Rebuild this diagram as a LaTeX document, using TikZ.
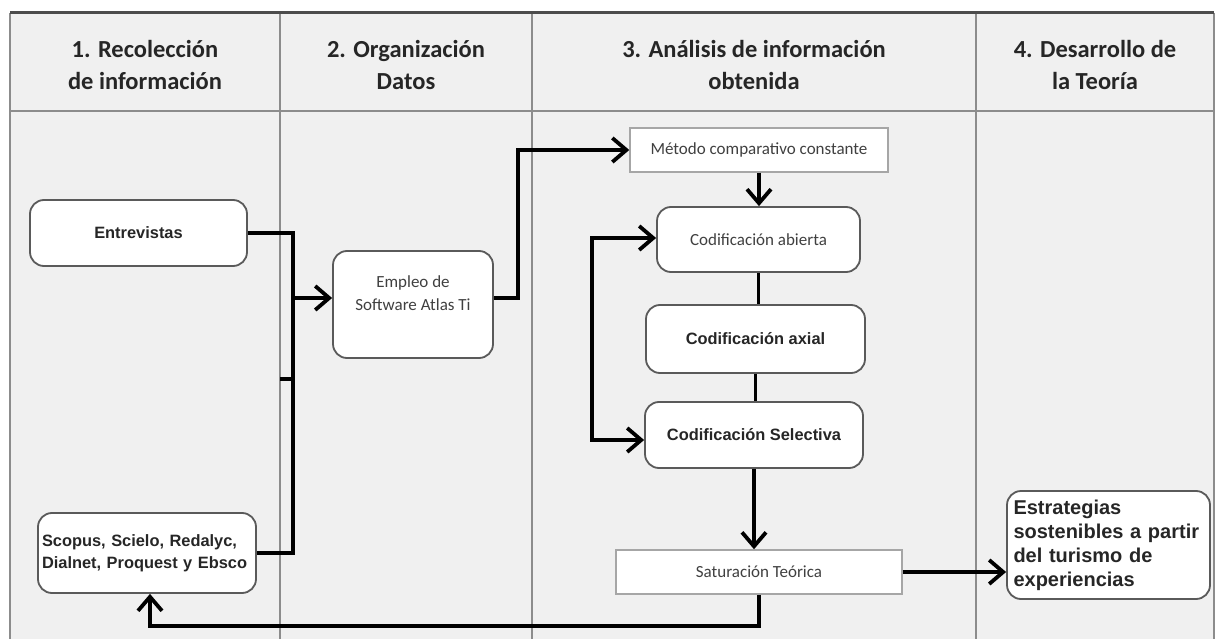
\documentclass[tikz,border=0pt]{standalone}
\usepackage{fontspec}
\setmainfont{Carlito}
\newfontfamily\arialfam{Liberation Sans}
\usetikzlibrary{arrows.meta}

\definecolor{lanebg}{HTML}{F0F0F0}
\definecolor{lanegray}{HTML}{8C8C8C}
\definecolor{boxedge}{HTML}{5A5A5A}
\definecolor{thinedge}{HTML}{A6A6A6}
\definecolor{txtgray}{HTML}{404040}

\tikzset{
  lanesep/.style={lanegray,line width=1.8pt},
  hdr/.style={align=center,text=black!85,font=\fontsize{24.5}{32}\selectfont\bfseries},
  rbox/.style={draw=boxedge,line width=1.8pt,fill=white,rounded corners=14pt,inner sep=4pt},
  sbox/.style={draw=thinedge,line width=1.5pt,fill=white,inner sep=4pt},
  calitext/.style={text=txtgray,font=\fontsize{17}{23}\selectfont},
  arialtext/.style={text=black!85,font=\arialfam\bfseries\fontsize{16.4}{22}\selectfont},
  wire/.style={line width=3.8pt,black},
  flow/.style={wire,-{Straight Barb[length=14pt,width=24pt]}},
  twoway/.style={wire,{Straight Barb[length=14pt,width=24pt]}-{Straight Barb[length=14pt,width=24pt]}},
}

\begin{document}
\begin{tikzpicture}[x=1pt,y=-1pt]
  \useasboundingbox (0,0) rectangle (1221,639);

  % lanes
  \fill[lanebg] (10,13) rectangle (1214,639);
  \foreach \x in {10,280,532,976,1214}
    \draw[lanesep] (\x,13) -- (\x,639);
  \draw[lanesep] (10,111) -- (1214,111);
  \draw[line width=3pt,black!70] (10,13) -- (1214,13);

  % headers
  \node[hdr] (h1) at (145,65) {1. Recolección\\de información};
  \node[hdr] (h2) at (406,65) {2. Organización\\Datos};
  \node[hdr] (h3) at (754,65) {3. Análisis de información\\obtenida};
  \node[hdr] (h4) at (1095,65) {4. Desarrollo de\\la Teoría};

  % boxes
  \node[rbox,arialtext,minimum width=217,minimum height=66] (entrevistas) at (138.5,233) {Entrevistas};
  \node[rbox,arialtext,minimum width=218,minimum height=80,text width=210,align=left] (scopus) at (147,553)
    {Scopus, Scielo, Redalyc,\\Dialnet, Proquest y Ebsco};
  \node[rbox,calitext,minimum width=160,minimum height=107,align=center] (empleo) at (413,304.5)
    {Empleo de\\Software Atlas Ti\\~};
  \node[sbox,calitext,minimum width=258,minimum height=44] (metodo) at (759,150) {Método comparativo constante};
  \node[rbox,calitext,minimum width=203,minimum height=65] (abierta) at (758.5,239.5) {Codificación abierta};
  \node[rbox,arialtext,minimum width=219,minimum height=68] (axial) at (755.5,339) {Codificación axial};
  \node[rbox,arialtext,minimum width=218,minimum height=66] (selectiva) at (754,435) {Codificación Selectiva};
  \node[sbox,calitext,minimum width=286,minimum height=44] (saturacion) at (759,572) {Saturación Teórica};
  \node[rbox,minimum width=203,minimum height=108,text width=190,align=left,inner sep=6pt,
        text=black!85,font=\arialfam\bfseries\fontsize{20}{24}\selectfont] (estrategias) at (1108.5,545)
    {Estrategias\\sostenibles a partir\\del turismo de\\experiencias};

  % joints
  \coordinate (jtop) at (293,233);
  \coordinate (jmid) at (293,298);
  \coordinate (jbot) at (293,553);
  \coordinate (stub) at (280,379);
  \coordinate (up1) at (518,150);
  \coordinate (lpt) at (592,238);
  \coordinate (lpb) at (592,440);
  \coordinate (ret) at (150,626);

  % connectors
  \draw[wire] (entrevistas.east |- jtop) -- (jtop) -- (jbot) -- (scopus.east |- jbot);
  \draw[wire] (stub) -- (stub -| jbot);
  \draw[flow] (jmid) -- (empleo.west |- jmid);
  \draw[flow] (empleo.east |- jmid) -| (up1) -- (metodo.west);
  \draw[flow] (metodo.south) -- (metodo.south |- abierta.north);
  \draw[wire] (abierta.south) -- (abierta.south |- axial.north);
  \draw[wire] (axial.south) -- (axial.south |- selectiva.north);
  \draw[twoway] (abierta.west |- lpt) -- (lpt) -- (lpb) -- (selectiva.west |- lpb);
  \draw[flow] (selectiva.south) -- (selectiva.south |- saturacion.north);
  \draw[flow] (saturacion.east) -- (estrategias.west |- saturacion.east);
  \draw[flow] (saturacion.south) |- (ret) -- (ret |- scopus.south);
\end{tikzpicture}
\end{document}
